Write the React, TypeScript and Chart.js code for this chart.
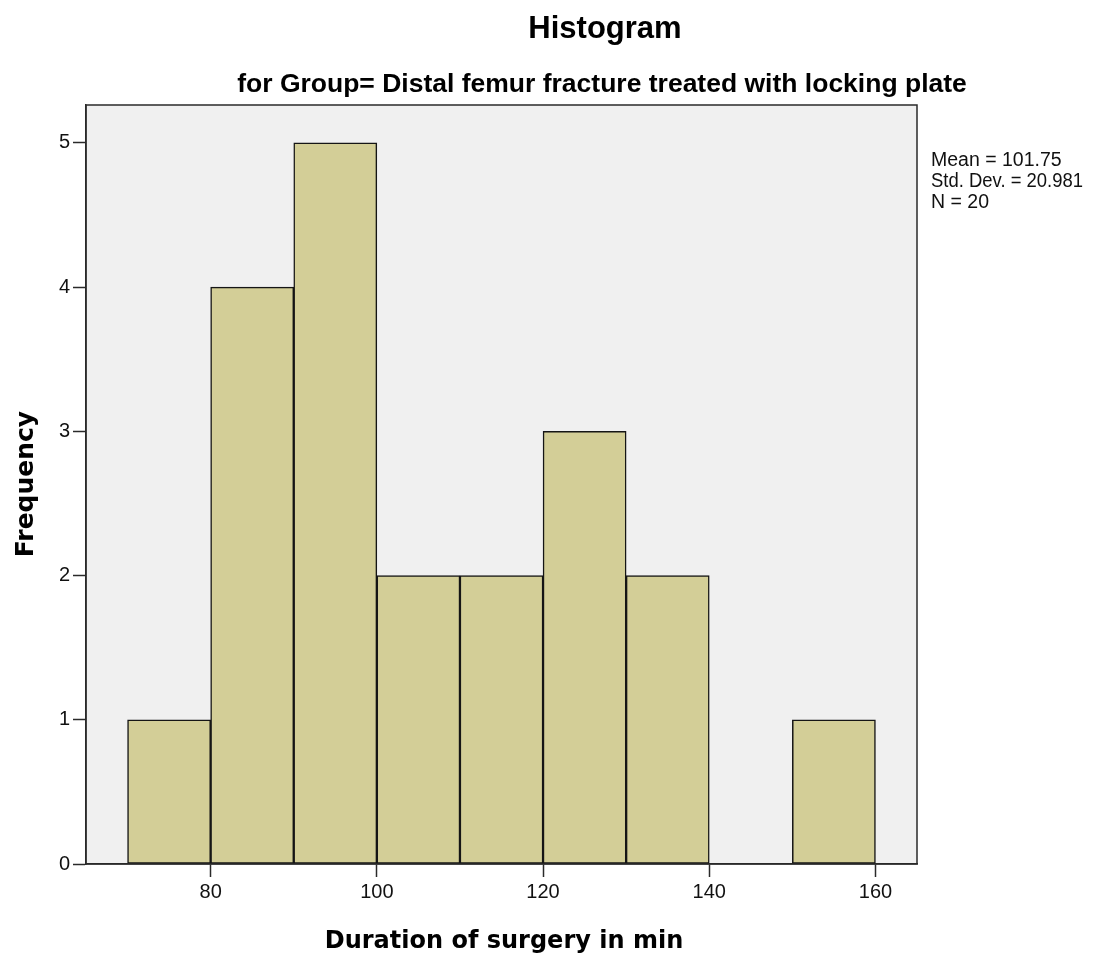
import React, { useEffect, useRef } from "react";
import { Chart, registerables } from "chart.js";

Chart.register(...registerables);

const binCenters = [75, 85, 95, 105, 115, 125, 135, 145, 155];
const frequencies = [1, 4, 5, 2, 2, 3, 2, 0, 1];
const xTicks = [80, 100, 120, 140, 160];
const yTicks = [0, 1, 2, 3, 4, 5];
const statsLines = ["Mean = 101.75", "Std. Dev. = 20.981", "N = 20"];
const titleText = "Histogram";
const subtitleText = "for Group= Distal femur fracture treated with locking plate";
const xTitle = "Duration of surgery in min";
const yTitle = "Frequency";

const textPlugin = {
  id: "spssDecor",
  beforeDraw(chart: any) {
    const { ctx, chartArea } = chart;
    ctx.save();
    ctx.fillStyle = "#ffffff";
    ctx.fillRect(0, 0, chart.width, chart.height);
    ctx.fillStyle = "#f0f0f0";
    ctx.fillRect(chartArea.left, chartArea.top, chartArea.right - chartArea.left, chartArea.bottom - chartArea.top);
    ctx.restore();
  },
  afterDraw(chart: any) {
    const { ctx, chartArea } = chart;
    ctx.save();
    ctx.strokeStyle = "#2a2a2a";
    ctx.lineWidth = 1.5;
    ctx.strokeRect(chartArea.left, chartArea.top, chartArea.right - chartArea.left, chartArea.bottom - chartArea.top);

    ctx.fillStyle = "#000000";
    ctx.textAlign = "center";
    ctx.textBaseline = "alphabetic";
    ctx.font = 'bold 31px "Liberation Sans", Arial, sans-serif';
    ctx.fillText(titleText, 605, 38);
    ctx.font = 'bold 26.5px "Liberation Sans", Arial, sans-serif';
    ctx.fillText(subtitleText, 602, 92, 735);

    ctx.font = 'bold 24px "DejaVu Sans", sans-serif';
    ctx.fillText(xTitle, 504, 948);

    ctx.save();
    ctx.translate(33, 484);
    ctx.rotate(-Math.PI / 2);
    ctx.font = 'bold 25px "DejaVu Sans", sans-serif';
    ctx.fillText(yTitle, 0, 0);
    ctx.restore();

    ctx.textAlign = "left";
    ctx.fillStyle = "#111111";
    ctx.font = '19.5px "Liberation Sans", Arial, sans-serif';
    const maxW = [140, 152, 70];
    statsLines.forEach((s, i) => {
      ctx.fillText(s, 931, 166 + i * 21, maxW[i]);
    });
    ctx.restore();
  },
};

export default function App() {
  const canvasRef = useRef<HTMLCanvasElement | null>(null);

  useEffect(() => {
    if (!canvasRef.current) return;
    const chart = new Chart(canvasRef.current, {
      type: "bar",
      data: {
        datasets: [
          {
            data: binCenters.map((x, i) => ({ x, y: frequencies[i] })),
            backgroundColor: "#d3ce97",
            borderColor: "#151515",
            borderWidth: 1.5,
            borderSkipped: false,
            barPercentage: 1,
            categoryPercentage: 1,
          },
        ],
      },
      options: {
        animation: false,
        responsive: true,
        maintainAspectRatio: false,
        layout: { padding: { left: 0, top: 105, right: 193, bottom: 0 } },
        plugins: {
          legend: { display: false },
          title: { display: false },
          tooltip: { enabled: false },
        },
        scales: {
          x: {
            type: "linear",
            offset: false,
            min: 65,
            max: 165,
            afterBuildTicks: (scale: any) => {
              scale.ticks = xTicks.map((v) => ({ value: v }));
            },
            afterFit: (scale: any) => {
              scale.height = 92;
            },
            grid: {
              offset: false,
              drawOnChartArea: false,
              drawTicks: true,
              tickLength: 13,
              tickColor: "#2a2a2a",
              tickWidth: 1.5,
            },
            border: { display: true, color: "#2a2a2a", width: 1.5 },
            ticks: {
              padding: 3,
              color: "#111111",
              font: { family: '"Liberation Sans", Arial, sans-serif', size: 20 },
              maxRotation: 0,
              autoSkip: false,
            },
          },
          y: {
            min: 0,
            max: 5.263,
            afterBuildTicks: (scale: any) => {
              scale.ticks = yTicks.map((v) => ({ value: v }));
            },
            afterFit: (scale: any) => {
              scale.width = 86;
            },
            grid: {
              drawOnChartArea: false,
              drawTicks: true,
              tickLength: 13,
              tickColor: "#2a2a2a",
              tickWidth: 1.5,
            },
            border: { display: true, color: "#2a2a2a", width: 1.5 },
            ticks: {
              padding: 3,
              color: "#111111",
              font: { family: '"Liberation Sans", Arial, sans-serif', size: 20 },
              autoSkip: false,
            },
          },
        },
      },
      plugins: [textPlugin],
    } as any);
    return () => chart.destroy();
  }, []);

  return (
    <div style={{ position: "fixed", left: 0, top: 0, width: 1110, height: 956, background: "#fff" }}>
      <canvas ref={canvasRef} />
    </div>
  );
}
